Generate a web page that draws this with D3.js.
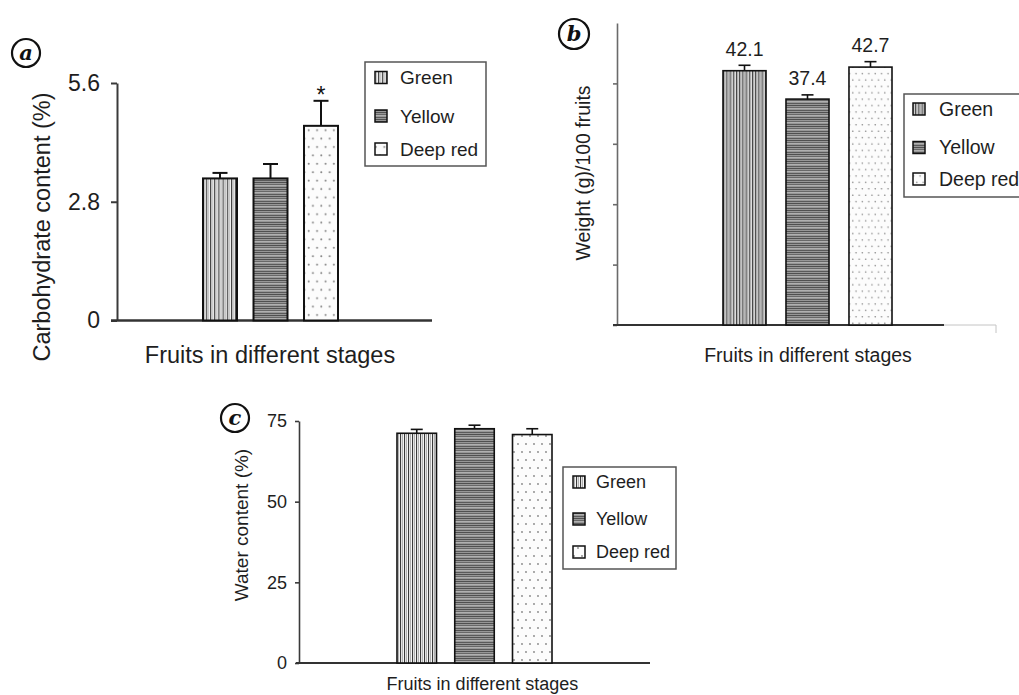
<!DOCTYPE html>
<html><head><meta charset="utf-8">
<script src="https://cdn.jsdelivr.net/npm/d3@7"></script>
<style>body{margin:0;background:#fff}svg{display:block}</style>
</head><body><svg id="chart" width="1019" height="695"></svg>
<script>
// ---------- data ----------
const categories = ["Green", "Yellow", "Deep red"];
const carbValues = [3.35, 3.35, 4.59];
const carbErrors = [0.13, 0.34, 0.59];
const carbTicks = [0, 2.8, 5.6];
const weightValues = [42.1, 37.4, 42.7];
const weightErrors = [0.9, 0.7, 0.9];
const weightTicks = [0, 10, 20, 30, 40];
const waterValues = [71.2, 72.6, 70.8];
const waterErrors = [1.2, 1.1, 1.8];
const waterTicks = [0, 25, 50, 75];
const panelLetters = ["a", "b", "c"];
const xTitle = "Fruits in different stages";
const yTitles = ["Carbohydrate content (%)", "Weight (g)/100 fruits", "Water content (%)"];
const significance = ["", "", "*"];

// ---------- layout ----------
const FONT = "'Liberation Sans', Arial, Helvetica, sans-serif";
const svg = d3.select("#chart");
const defs = svg.append("defs");

const panels = [
  { key: "a", values: carbValues, errors: carbErrors, ticks: carbTicks, max: 5.6,
    yAxisX: 117, yBottom: 320.5, yTop: 83, xLine: [111, 432], barRange: [203, 338], pad: 0.327,
    tickSize: 6, tickPad: 11, tickFont: 23, showTickLabels: true, axisW: 2, barStroke: 2, capW: 15,
    stripe: 4.2, dotR: 1, yTitle: { x: 50, y: 227, size: 23.5 }, xTitleP: { x: 270, y: 363, size: 23.5 },
    legend: { x0: 365, x1: 486, y0: 62, y1: 166, sw: 375, tx: 400, ys: [77.5, 116, 149], size: 19 },
    circle: { x: 26, y: 53, r: 14 }, star: true, valueLabels: false },
  { key: "b", values: weightValues, errors: weightErrors, ticks: weightTicks, max: 50,
    yAxisX: 617, yBottom: 325, yTop: 23, xLine: [613, 944], barRange: [723, 892], pad: 0.317,
    tickSize: 4, tickPad: 6, tickFont: 18, showTickLabels: false, axisW: 1.6, barStroke: 1.6, capW: 12,
    stripe: 3.2, dotR: 0.8, yTitle: { x: 590, y: 173, size: 19.5 }, xTitleP: { x: 808, y: 362, size: 19.5 },
    legend: { x0: 904, x1: 1032, y0: 94, y1: 197, sw: 913, tx: 939, ys: [109, 147.5, 179], size: 19.5 },
    circle: { x: 574, y: 34, r: 15 }, star: false, valueLabels: true },
  { key: "c", values: waterValues, errors: waterErrors, ticks: waterTicks, max: 75,
    yAxisX: 299, yBottom: 663, yTop: 421, xLine: [296, 650], barRange: [397, 552], pad: 0.316,
    tickSize: 4, tickPad: 8, tickFont: 18, showTickLabels: true, axisW: 1.6, barStroke: 1.6, capW: 12,
    stripe: 4, dotR: 0.9, yTitle: { x: 248, y: 525, size: 19 }, xTitleP: { x: 482.5, y: 690, size: 18 },
    legend: { x0: 563, x1: 676, y0: 467, y1: 569, sw: 573, tx: 596, ys: [482, 519, 552], size: 18 },
    circle: { x: 235, y: 418, r: 14 }, star: false, valueLabels: false }
];

// ---------- patterns ----------
function makePatterns(key, stripe, dotR) {
  // vertical stripes (Green)
  const g = defs.append("pattern").attr("id", `pat-${key}-0`)
    .attr("patternUnits", "userSpaceOnUse").attr("width", stripe).attr("height", 10);
  g.append("rect").attr("width", stripe).attr("height", 10).attr("fill", "#f4f4f4");
  g.append("rect").attr("x", 0).attr("width", 1.1).attr("height", 10).attr("fill", "#3a3a3a");
  g.append("rect").attr("x", stripe / 2).attr("width", 1).attr("height", 10).attr("fill", "#b0b0b0");
  // horizontal stripes (Yellow)
  const y = defs.append("pattern").attr("id", `pat-${key}-1`)
    .attr("patternUnits", "userSpaceOnUse").attr("width", 10).attr("height", 7);
  y.append("rect").attr("width", 10).attr("height", 7).attr("fill", "#979797");
  [[0, "#505050"], [2, "#686868"], [3, "#b0b0b0"], [5, "#5a5a5a"]].forEach(([yy, c]) =>
    y.append("rect").attr("y", yy).attr("width", 10).attr("height", 1).attr("fill", c));
  // dots (Deep red)
  const d = defs.append("pattern").attr("id", `pat-${key}-2`)
    .attr("patternUnits", "userSpaceOnUse").attr("width", stripe * 2).attr("height", stripe * 4);
  d.append("rect").attr("width", stripe * 2).attr("height", stripe * 4).attr("fill", "#fcfcfc");
  d.append("circle").attr("cx", stripe * 0.5).attr("cy", stripe).attr("r", dotR).attr("fill", "#858585");
  d.append("circle").attr("cx", stripe * 1.5).attr("cy", stripe * 3).attr("r", dotR).attr("fill", "#858585");
}

// ---------- draw ----------
panels.forEach((p, pi) => {
  makePatterns(p.key, p.stripe, p.dotR);
  const g = svg.append("g").attr("class", `panel-${p.key}`);

  const x = d3.scaleBand().domain(categories).range(p.barRange).paddingInner(p.pad).paddingOuter(0);
  const y = d3.scaleLinear().domain([0, p.max]).range([p.yBottom, p.yTop]);

  // y axis
  const yAxis = d3.axisLeft(y).tickValues(p.ticks).tickSize(p.tickSize).tickPadding(p.tickPad)
    .tickSizeOuter(0).tickFormat(p.showTickLabels ? (d => d === 0 ? "0" : (Number.isInteger(d) ? d : d.toFixed(1))) : "");
  const ya = g.append("g").attr("transform", `translate(${p.yAxisX},0)`).call(yAxis);
  ya.select(".domain").attr("stroke", p.key === "b" ? "#6a6a6a" : "#3a3a3a").attr("stroke-width", p.axisW);
  ya.selectAll(".tick line").attr("stroke", p.key === "b" ? "#6a6a6a" : "#3a3a3a").attr("stroke-width", p.axisW);
  ya.selectAll(".tick text").attr("font-family", FONT).attr("font-size", p.tickFont).attr("fill", "#1e1e1e");

  // x axis line
  g.append("line").attr("x1", p.xLine[0]).attr("x2", p.xLine[1]).attr("y1", y(0)).attr("y2", y(0))
    .attr("stroke", "#333").attr("stroke-width", p.axisW + 0.3);
  if (p.key === "b") {
    g.append("line").attr("x1", p.xLine[1]).attr("x2", 996).attr("y1", y(0)).attr("y2", y(0))
      .attr("stroke", "#c4c4c4").attr("stroke-width", 1);
    g.append("line").attr("x1", 996).attr("x2", 996).attr("y1", y(0)).attr("y2", y(0) + 8)
      .attr("stroke", "#c4c4c4").attr("stroke-width", 1);
  }

  // bars
  g.selectAll("rect.bar").data(categories).join("rect").attr("class", "bar")
    .attr("x", d => x(d)).attr("width", x.bandwidth())
    .attr("y", (d, i) => y(p.values[i])).attr("height", (d, i) => y(0) - y(p.values[i]))
    .attr("fill", (d, i) => `url(#pat-${p.key}-${i})`)
    .attr("stroke", "#111").attr("stroke-width", p.barStroke);

  // error bars
  categories.forEach((c, i) => {
    const cx = x(c) + x.bandwidth() / 2;
    const top = y(p.values[i] + p.errors[i]);
    g.append("line").attr("x1", cx).attr("x2", cx).attr("y1", y(p.values[i])).attr("y2", top)
      .attr("stroke", "#111").attr("stroke-width", p.barStroke);
    g.append("line").attr("x1", cx - p.capW / 2).attr("x2", cx + p.capW / 2).attr("y1", top).attr("y2", top)
      .attr("stroke", "#111").attr("stroke-width", p.barStroke);
    if (p.star && significance[i]) {
      g.append("text").attr("x", cx).attr("y", top + 2).attr("text-anchor", "middle")
        .attr("font-family", FONT).attr("font-size", 23).attr("fill", "#111").text(significance[i]);
    }
    if (p.valueLabels) {
      g.append("text").attr("x", cx).attr("y", top - 9.5).attr("text-anchor", "middle")
        .attr("font-family", FONT).attr("font-size", 19.5).attr("fill", "#1e1e1e").text(p.values[i].toFixed(1));
    }
  });

  // axis titles
  g.append("text").attr("transform", `translate(${p.yTitle.x},${p.yTitle.y}) rotate(-90)`)
    .attr("text-anchor", "middle").attr("font-family", FONT).attr("font-size", p.yTitle.size)
    .attr("fill", "#1e1e1e").text(yTitles[pi]);
  g.append("text").attr("x", p.xTitleP.x).attr("y", p.xTitleP.y).attr("text-anchor", "middle")
    .attr("font-family", FONT).attr("font-size", p.xTitleP.size).attr("fill", "#1e1e1e").text(xTitle);

  // legend
  const L = p.legend;
  g.append("rect").attr("x", L.x0).attr("y", L.y0).attr("width", L.x1 - L.x0).attr("height", L.y1 - L.y0)
    .attr("fill", "#fff").attr("stroke", "#555").attr("stroke-width", 1.5);
  categories.forEach((c, i) => {
    g.append("rect").attr("x", L.sw).attr("y", L.ys[i] - 6).attr("width", 12).attr("height", 12)
      .attr("fill", `url(#pat-${p.key}-${i})`).attr("stroke", "#111").attr("stroke-width", 1.5);
    g.append("text").attr("x", L.tx).attr("y", L.ys[i]).attr("dy", "0.35em")
      .attr("font-family", FONT).attr("font-size", L.size).attr("fill", "#1e1e1e").text(c);
  });

  // circled panel letter
  g.append("circle").attr("cx", p.circle.x).attr("cy", p.circle.y).attr("r", p.circle.r)
    .attr("fill", "#fff").attr("stroke", "#111").attr("stroke-width", 2.2);
  g.append("text").attr("x", p.circle.x).attr("y", p.circle.y).attr("dy", "0.33em").attr("text-anchor", "middle")
    .attr("font-family", "'DejaVu Serif', 'Liberation Serif', serif").attr("font-style", "italic")
    .attr("font-weight", "bold").attr("font-size", 21).attr("fill", "#111").text(panelLetters[pi]);
});
</script>
</body></html>
